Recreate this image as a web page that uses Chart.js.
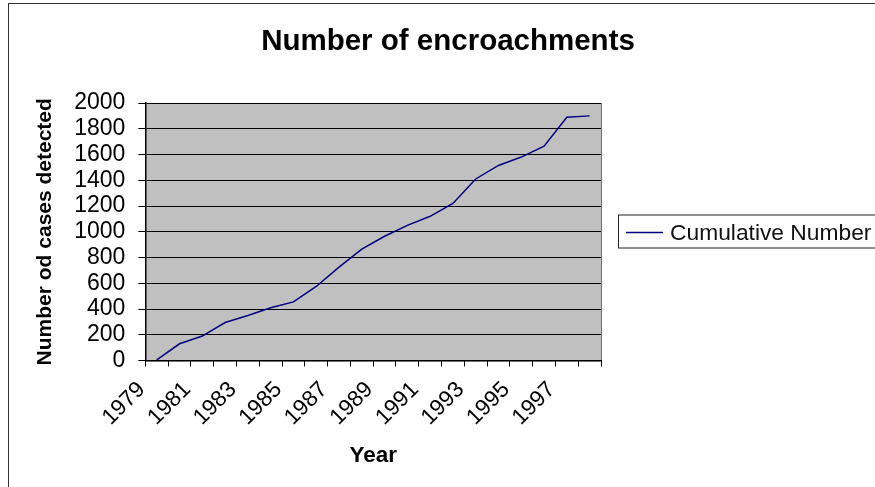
<!DOCTYPE html>
<html>
<head>
<meta charset="utf-8">
<script src="https://cdn.jsdelivr.net/npm/chart.js@4/dist/chart.umd.min.js"></script>
<style>
  html, body { margin: 0; padding: 0; background: #fff; overflow: hidden; }
  #frame {
    position: absolute; left: 8px; top: 3px;
    border-left: 1px solid #333; border-top: 1px solid #333;
    width: 900px; height: 500px;
  }
  canvas { display: block; }
</style>
</head>
<body>
<div id="frame"><canvas id="encroachments" width="878" height="483"></canvas></div>
<script>
// x-axis categories (years) and the cumulative count
const years = ['1979', '1980', '1981', '1982', '1983', '1984', '1985', '1986', '1987', '1988',
               '1989', '1990', '1991', '1992', '1993', '1994', '1995', '1996', '1997', '1998'];
const cumulative = [5, 130, 190, 295, 350, 410, 455, 575, 725, 865,
                    965, 1050, 1120, 1220, 1410, 1515, 1580, 1665, 1890, 1900];
const seriesName = 'Cumulative Number';

const FONT = "'Liberation Sans', Arial, sans-serif";
const LINE_COLOR = '#000080';

// grey plot background + thin frame, like the old Excel chart
const plotBackground = {
    id: 'plotBackground',
    beforeDraw(chart) {
        const {ctx, chartArea: a} = chart;
        ctx.save();
        ctx.fillStyle = '#c0c0c0';
        ctx.fillRect(a.left, a.top, a.right - a.left, a.bottom - a.top);
        ctx.strokeStyle = '#707070';
        ctx.lineWidth = 1;
        ctx.strokeRect(Math.round(a.left) + 0.5, Math.round(a.top) + 0.5,
                       Math.round(a.right - a.left), Math.round(a.bottom - a.top));
        ctx.restore();
    }
};

// The built-in legend is capped at a quarter of the width, so the
// right-hand legend is a small layout box of its own.
const sideLegend = {
    id: 'sideLegend',
    beforeInit(chart) {
        const box = {
            position: 'right',
            weight: 10,
            fullSize: false,
            options: {},
            isHorizontal() { return false; },
            update(maxWidth, maxHeight) {
                this.width = 286;
                this.height = maxHeight;
            },
            draw() {
                const ctx = chart.ctx;
                const ds = chart.data.datasets[0];
                const cy = Math.round((this.top + this.bottom) / 2) + 0.5;
                const x0 = this.left + 25;
                ctx.save();
                // frame
                ctx.strokeStyle = '#222';
                ctx.lineWidth = 1;
                ctx.strokeRect(Math.round(this.left + 17) + 0.5, Math.round(cy - 17.5), 400, 33);
                // line sample
                ctx.strokeStyle = ds.borderColor;
                ctx.lineWidth = 1.5;
                ctx.beginPath();
                ctx.moveTo(x0, cy);
                ctx.lineTo(x0 + 37, cy);
                ctx.stroke();
                // label
                ctx.fillStyle = '#111';
                ctx.font = '22.8px ' + FONT;
                ctx.textBaseline = 'middle';
                ctx.fillText(ds.label, x0 + 44, cy + 1);
                ctx.restore();
            }
        };
        Chart.layouts.addBox(chart, box);
    }
};

const chart = new Chart(document.getElementById('encroachments'), {
    type: 'line',
    data: {
        labels: years,
        datasets: [{
            label: seriesName,
            data: cumulative,
            borderColor: LINE_COLOR,
            backgroundColor: LINE_COLOR,
            borderWidth: 1.5,
            pointRadius: 0,
            tension: 0
        }]
    },
    options: {
        responsive: false,
        animation: false,
        scales: {
            x: {
                offset: true,
                grid: {
                    offset: true,
                    drawOnChartArea: false,
                    color: '#000',
                    tickLength: 6
                },
                border: { color: '#000', width: 1 },
                ticks: {
                    autoSkip: false,
                    maxRotation: 45,
                    minRotation: 45,
                    padding: 10,
                    labelOffset: -15,
                    color: '#000',
                    font: { family: FONT, size: 22.5 },
                    callback: function(val, index) {
                        // every second year is labelled
                        return index % 2 === 0 ? this.getLabelForValue(val) : '';
                    }
                },
                title: {
                    display: true,
                    text: 'Year',
                    color: '#000',
                    font: { family: FONT, size: 22.5, weight: 'bold' },
                    padding: { top: 1, bottom: 18 }
                }
            },
            y: {
                min: 0,
                max: 2000,
                ticks: {
                    stepSize: 200,
                    autoSkip: false,
                    padding: 13,
                    color: '#000',
                    font: { family: FONT, size: 23 },
                    callback: (value) => String(value)
                },
                grid: { color: '#000', tickLength: 7 },
                border: { color: '#000', width: 1.5 },
                title: {
                    display: true,
                    text: 'Number od cases detected',
                    color: '#000',
                    font: { family: FONT, size: 21, weight: 'bold' },
                    padding: { top: 23.5, bottom: 3.5 }
                }
            }
        },
        plugins: {
            title: {
                display: true,
                text: 'Number of encroachments',
                color: '#000',
                font: { family: FONT, size: 29.5, weight: 'bold' },
                padding: { top: 20, bottom: 43.6 }
            },
            legend: { display: false },
            tooltip: { enabled: false }
        }
    },
    plugins: [plotBackground, sideLegend]
});
</script>
</body>
</html>
